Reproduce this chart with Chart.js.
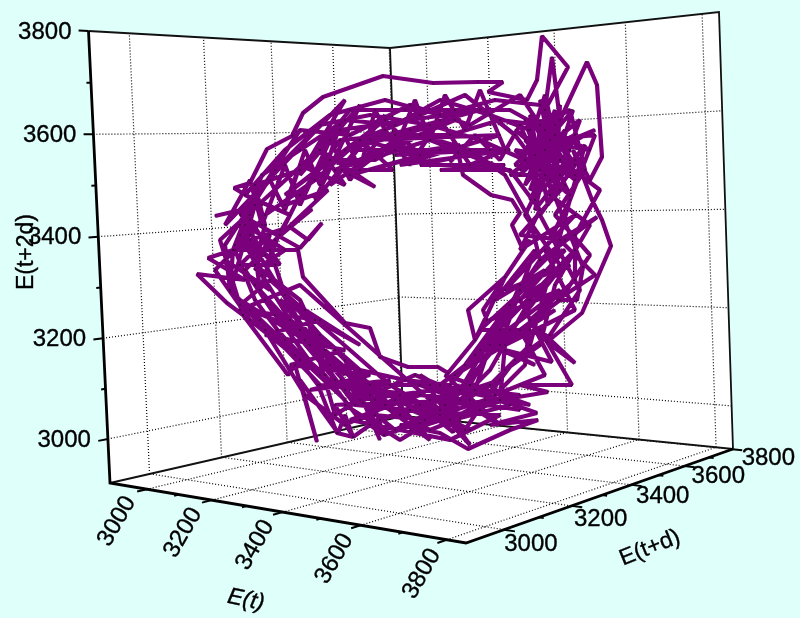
<!DOCTYPE html>
<html><head><meta charset="utf-8">
<script src="https://cdn.jsdelivr.net/npm/chart.js@4"></script>
<style>html,body{margin:0;padding:0;background:#dffffb}canvas{display:block}</style>
</head><body><canvas id="c" width="800" height="618"></canvas>
<script>
// axis tick values and axis extents (data units)
const majorTicks=[3000,3200,3400,3600,3800];
const minorTicks=[3000,3100,3200,3300,3400,3500,3600,3700,3800];
const rangeEt=[2878,3842], rangeEd=[2898,3803], rangeE2=[2912,3800];
// box corners in the projected view plane
const cornerLeftBottom=[110,483], cornerFront=[466,543], cornerRight=[733,449], cornerBack=[403,416];
const cornerLeftTop=[88.5,31], cornerBackTop=[390,48], cornerRightTop=[719,12];
// trajectory E(t),E(t+d),E(t+2d) as read in the projected view plane
const trajectory=[
[215,216],[262,205],[234,188],[250,183],[267,149],[292,136],[303,113],[323,97],[383,76],[433,83],[478,82],[503,82],[488,92],[527,100],[537,80],[542,36],[568,67],[545,110],[552,57],[560,120],[587,62],[597,85],[602,157],[590,180],[573,150],[592,200],[602,220],[611,246],[582,313],[547,342],[575,363],[540,330],[572,385],[520,385],[548,392],[500,400],[537,413],[490,425],[538,420],[510,430],[468,449],[440,433],[400,425],[420,423],[384,435],[370,425],[353,437],[345,415],[338,433],[300,380],[317,442],[295,365],[288,375],[243,315],[227,303],[197,274],[245,280],[208,258],[233,250],
[262,175],[300,150],[345,120],[395,125],[440,100],[490,115],[530,130],[570,110],[585,170],[555,215],[590,255],[560,300],[520,330],[545,375],[495,395],[450,420],[400,395],[360,420],[325,375],[285,340],[255,300],[235,250],[255,205],
[230,292],[233,250],[298,250],[303,277],[345,323],[370,328],[380,357],[408,367],[438,367],[448,373],[475,340],[505,277],[468,310],[475,340],[487,320],[483,310],[530,240],[523,250],[512,225],[520,213],[512,200],[491,195],[463,175],[458,152],[450,162],[475,135],[500,160],[520,125],[540,170],[555,110],[525,185],[565,130],[530,200],[575,160],[515,150],[570,195],[530,115],[548,205],[580,120],[510,175],[560,175],[525,140],[590,150],[545,130],[550,180],[573,110],[535,155],[595,130],[520,170],[545,95],[560,160],[515,130],[575,180],[540,120],[535,200],[560,105],[555,200],[528,130],[583,267],[577,300],[557,300],[595,275],[560,240],[597,217],[540,260],[565,250],[520,300],[552,362],[505,350],[535,365],[490,345],[475,390],[510,405],
[460,418],[453,432],[420,405],[470,430],[395,400],[430,440],[370,395],[384,435],[363,403],[335,405],[353,437],[337,433],[318,385],[295,355],[277,330],[320,375],[265,300],[300,330],[250,310],[243,315],[225,260],[270,290],[240,235],[280,265],[250,220],[300,248],[322,223],[308,240],[290,227],[312,209],[275,240],[328,190],[285,205],[300,165],[345,185],[320,150],[375,187],[342,170],[393,170],[360,140],[420,155],[385,120],
[285,195],[330,160],[375,160],[420,135],[470,150],[505,175],[530,220],[540,260],[510,305],[480,350],[450,385],[405,380],[360,370],[320,335],[285,295],[270,250],[290,215],
[245,195],[285,150],[330,115],[385,100],[440,115],[495,100],[540,105],[560,160],[600,190],[575,235],[575,280],[530,320],[525,365],[480,410],[430,430],[385,405],[345,425],[305,395],[265,330],[230,290],[225,245],
[300,130],[350,135],[410,105],[470,125],[520,95],[550,140],[595,135],[570,200],[545,250],[575,310],[505,345],[500,400],[445,405],[395,430],[345,390],[300,360],[250,320],[215,270],[250,235],
[265,215],[315,180],[360,140],[420,115],[465,95],[515,135],[545,175],[525,215],[560,265],[530,300],[490,370],[460,400],[420,385],[370,385],[335,350],[290,320],[262,275],[240,225],
[275,170],[320,125],[370,115],[430,125],[480,140],[525,160],[575,135],[550,195],[590,225],[555,285],[540,345],[505,370],[465,430],[410,410],[355,405],[310,345],[275,315],[245,270],[280,235],
[300,195],[340,140],[395,135],[450,135],[500,120],[540,125],[565,185],[520,235],[565,240],[520,285],[500,330],[470,385],[425,420],[375,415],[330,365],[300,300],[255,265],[265,225],
[255,185],[300,170],[350,110],[405,110],[455,110],[510,110],[555,135],[575,165],[540,215],[580,290],[550,335],[515,360],[485,400],[440,415],[390,385],[350,350],[315,320],[270,280],[240,305],[220,240],
[340,130],[480,110],[370,140],[500,135],[400,165],[510,150],[345,150],[455,120],[335,170],[430,140],
[520,175],[545,150],[530,190],[570,150],[525,120],[560,190],[540,100],[575,175],[515,165],[555,125],[535,210],[585,145],
[530,345],[490,385],[520,410],[420,395],[350,420],[450,440],[500,415],[390,410],[340,380],[440,410],[490,385],[400,440],[345,405],[470,400],
[320,385],[230,290],[260,320],[345,400],[240,300],[305,340],[255,285],[335,380],
[250,240],[275,265],[240,265],[270,235],[255,270],[285,250],[245,225],[265,255],[235,245],[280,230],[260,290],[250,215],
[240,215],[270,180],[285,210],[305,150],[320,185],[340,125],[360,170],[375,110],[395,150],[415,100],[430,140],[445,95],[465,130],[480,90],[505,150],[470,165],[440,120],[410,165],[385,130],[350,180],[330,140],[300,205],[285,165],[262,225],[250,180],[225,225],
[345,100],[300,175],[360,105],[315,200],[385,115],[330,185],[410,130],[350,175],[440,150],[370,170],[460,145],[395,155],[490,150],[420,165],[505,165],[440,170],[510,170],[540,210],
[520,250],[575,215],[505,290],[570,265],[490,320],[560,290],[475,355],[555,310],[455,375],[530,330],[480,330],[545,270],[495,300],[535,250],[500,345],[575,250],[465,365],[520,290],[460,390],[510,330],[440,385],
[415,375],[360,400],[470,385],[380,420],[500,380],[410,430],[520,395],[430,385],[530,405],[445,375],[500,425],[420,375],[470,445],[430,400],
[300,285],[240,310],[320,320],[265,335],[345,350],[290,365],[370,375],[310,390],[390,380],[335,415],[305,310],[360,345],[280,300],[345,375],[300,330],[375,400],[325,350],[400,415],[345,360],[380,440]
];
function quad(p0,p1,p2,p3){
  const dx1=p1[0]-p2[0],dx2=p3[0]-p2[0],sx=p0[0]-p1[0]+p2[0]-p3[0];
  const dy1=p1[1]-p2[1],dy2=p3[1]-p2[1],sy=p0[1]-p1[1]+p2[1]-p3[1];
  const det=dx1*dy2-dx2*dy1, g=(sx*dy2-dx2*sy)/det, h=(dx1*sy-sx*dy1)/det;
  return (u,v)=>{const w=1+g*u+h*v;
    return {x:(p0[0]+(p1[0]*(1+g)-p0[0])*u+(p3[0]*(1+h)-p0[0])*v)/w,
            y:(p0[1]+(p1[1]*(1+g)-p0[1])*u+(p3[1]*(1+h)-p0[1])*v)/w};};
}
const norm=(r,e)=>(e-r[0])/(r[1]-r[0]);
const floorQ=quad(cornerLeftBottom,cornerFront,cornerRight,cornerBack);
const leftQ=quad(cornerLeftBottom,cornerBack,cornerBackTop,cornerLeftTop);
const rightQ=quad(cornerBack,cornerRight,cornerRightTop,cornerBackTop);
const onFloor=(et,ed)=>floorQ(norm(rangeEt,et),norm(rangeEd,ed));
const onLeft=(ed,z)=>leftQ(norm(rangeEd,ed),norm(rangeE2,z));
const onRight=(et,z)=>rightQ(norm(rangeEt,et),norm(rangeE2,z));
const gap={x:null,y:null};
const P=a=>({x:a[0],y:a[1]});
const gridPts=[];
function seg(arr,a,b){arr.push(a,b,gap);}
majorTicks.forEach(t=>{
  seg(gridPts,onFloor(t,rangeEd[0]),onFloor(t,rangeEd[1]));
  seg(gridPts,onFloor(rangeEt[0],t),onFloor(rangeEt[1],t));
  seg(gridPts,onLeft(t,rangeE2[0]),onLeft(t,rangeE2[1]));
  seg(gridPts,onRight(t,rangeE2[0]),onRight(t,rangeE2[1]));
  if(t<3800){seg(gridPts,onLeft(rangeEd[0],t),onLeft(rangeEd[1],t));
  seg(gridPts,onRight(rangeEt[0],t),onRight(rangeEt[1],t));}
});
const tickPts=[];
minorTicks.forEach(t=>{
  const major=majorTicks.includes(t), d=major?24:11;
  seg(tickPts,onLeft(rangeEd[0],t),onLeft(rangeEd[0]-d,t));
  seg(tickPts,onFloor(t,rangeEd[0]),onFloor(t,rangeEd[0]-d));
  seg(tickPts,onFloor(rangeEt[1],t),onFloor(rangeEt[1]+d,t));
});
const line=(data,color,width,extra)=>Object.assign({type:'scatter',data,showLine:true,borderColor:color,borderWidth:width,pointRadius:0,spanGaps:false,tension:0,clip:false},extra||{});
const texts=[];
majorTicks.forEach((t,i)=>{
  const a=onLeft(rangeEd[0],t);
  texts.push({s:String(t),x:a.x-17,y:a.y+1,align:'right',rot:0,font:'24px'});
  const b=onFloor(t,rangeEd[0]);
  texts.push({s:String(t),x:b.x-30+i*1.25,y:b.y+32+i*.5,align:'center',rot:-60,font:'24px'});
  const c=onFloor(rangeEt[1],t);
  texts.push({s:String(t),x:c.x+27+i*2.25,y:c.y+15-i*1.5,align:'center',rot:0,font:'24px'});
});
texts.push({s:'E(t+2d)',x:27,y:252,align:'center',rot:-90,font:'23px'});
texts.push({s:'E(t)',x:246,y:600,align:'center',rot:12,font:'italic 23px'});
texts.push({s:'E(t+d)',x:650,y:548,align:'center',rot:-22,font:'23px'});
const textPlugin={id:'boxText',afterDraw(ch){
  const c=ch.ctx,sx=ch.scales.x,sy=ch.scales.y;
  c.save();c.fillStyle='#000';c.strokeStyle='#000';c.lineWidth=.35;c.textBaseline='middle';
  texts.forEach(t=>{c.save();c.translate(sx.getPixelForValue(t.x),sy.getPixelForValue(t.y));c.rotate(t.rot*Math.PI/180);
    c.textAlign=t.align;c.font=t.font+' "Liberation Sans",Arial,sans-serif';c.fillText(t.s,0,0);c.strokeText(t.s,0,0);c.restore();});
  c.restore();}};
new Chart(document.getElementById('c'),{
  type:'scatter',
  data:{datasets:[
    line(trajectory.map(P),'#7b007b',4.2,{order:1,label:'E(t), E(t+d), E(t+2d)',borderJoinStyle:'bevel',pointRadius:0.7,pointBackgroundColor:'#200020',pointBorderWidth:0}),
    line([P(cornerLeftTop),P(cornerLeftBottom),P(cornerFront),P(cornerRight)],'#000',2.8,{order:2}),
    line([P(cornerLeftTop),P(cornerBackTop),P(cornerRightTop),P(cornerRight),P(cornerBack),P(cornerLeftBottom),gap,P(cornerBack),P(cornerBackTop)],'#111',1.8,{order:3}),
    line(tickPts,'#000',2,{order:4}),
    line(gridPts,'#000',1.2,{order:5,borderDash:[1,2]}),
    line([P(cornerLeftBottom),P(cornerFront),P(cornerRight),P(cornerRightTop),P(cornerBackTop),P(cornerLeftTop)],'#fff',0,{order:6,fill:'shape',backgroundColor:'#fff'})
  ]},
  options:{responsive:false,animation:false,layout:{padding:0,autoPadding:false},
    plugins:{legend:{display:false},tooltip:{enabled:false},title:{display:false}},
    scales:{x:{type:'linear',min:0,max:800,display:false},y:{type:'linear',min:0,max:618,reverse:true,display:false}}},
  plugins:[textPlugin]
});
</script></body></html>
